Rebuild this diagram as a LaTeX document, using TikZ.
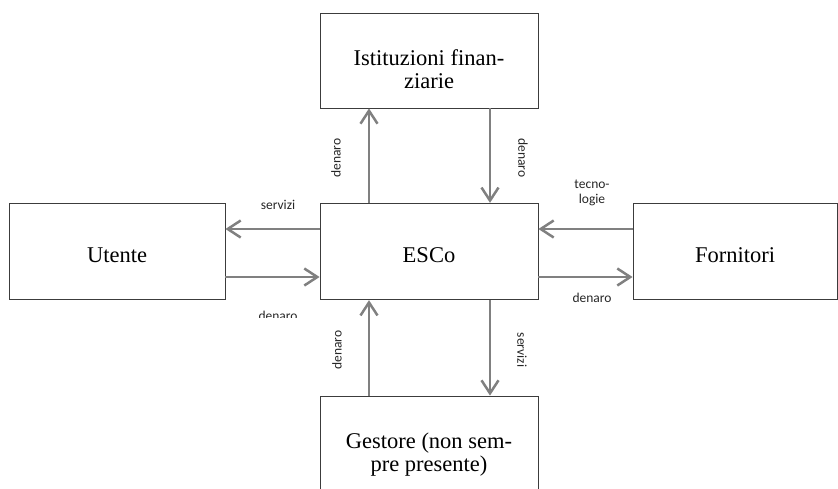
\documentclass[tikz,border=0pt]{standalone}
\usepackage{fontspec}
\setmainfont{Liberation Serif}
\newfontfamily\lblfont{Carlito}
\usetikzlibrary{arrows.meta}
\definecolor{arrgray}{RGB}{128,128,128}
\definecolor{boxline}{RGB}{60,60,60}
\begin{document}
\begin{tikzpicture}[x=1pt,y=-1pt,
  box/.style={draw=boxline,line width=0.8pt,rectangle,inner sep=0pt,align=center,
    font=\fontsize{22.5}{23}\selectfont},
  onebox/.style={box,text height=22pt,text depth=0pt},
  arr/.style={draw=arrgray,line width=2.5pt,-{Straight Barb[length=13pt,width=17pt,line width=2.5pt]}},
  lbl/.style={font=\lblfont\fontsize{13.5}{15}\selectfont,text=black!85,inner sep=0pt,align=center}]
\useasboundingbox (0,0) rectangle (838,488);
\node[box,minimum width=218pt,minimum height=95pt] (inst) at (429,60.5) {\rule{0pt}{33.4pt}Istituzioni finan-\\ziarie};
\node[onebox,minimum width=218pt,minimum height=96.5pt] (esco) at (429,251.5) {ESCo};
\node[onebox,minimum width=216pt,minimum height=96.5pt] (ute) at (117,251.5) {Utente};
\node[onebox,minimum width=204pt,minimum height=96.5pt] (forn) at (735,251.5) {Fornitori};
\node[box,minimum width=218pt,minimum height=118pt] (gest) at (429,455) {Gestore (non sem-\\pre presente)};
% vertical arrows top
\draw[arr] ([xshift=-60pt]esco.north) -- ([xshift=-60pt]inst.south);
\draw[arr] ([xshift=61pt]inst.south) -- ([xshift=61pt]esco.north);
% vertical arrows bottom
\draw[arr] ([xshift=-60pt]gest.north) -- ([xshift=-60pt]esco.south);
\draw[arr] ([xshift=61pt]esco.south) -- ([xshift=61pt]gest.north);
% horizontal left
\draw[arr] ([yshift=22.5pt]esco.west) -- ([yshift=22.5pt]ute.east);
\draw[arr] ([yshift=-25.5pt]ute.east) -- ([yshift=-25.5pt]esco.west);
% horizontal right
\draw[arr] ([yshift=22.5pt]forn.west) -- ([yshift=22.5pt]esco.east);
\draw[arr] ([yshift=-25.5pt]esco.east) -- ([yshift=-25.5pt]forn.west);
% labels
\node[lbl,rotate=90] (l1) at (336,158) {denaro};
\node[lbl,rotate=-90] (l2) at (523,158) {denaro};
\node[lbl] (l3) at (278,205) {servizi};
\begin{scope}
\clip (230,300) rectangle (320,317);
\node[lbl,anchor=base] (l4) at (278,320) {denaro};
\end{scope}
\node[lbl] (l5) at (592,193) {tecno-\\logie};
\node[lbl] (l6) at (592,298) {denaro};
\node[lbl,rotate=90] (l7) at (337,350) {denaro};
\node[lbl,rotate=-90] (l8) at (522,350) {servizi};
\end{tikzpicture}
\end{document}
